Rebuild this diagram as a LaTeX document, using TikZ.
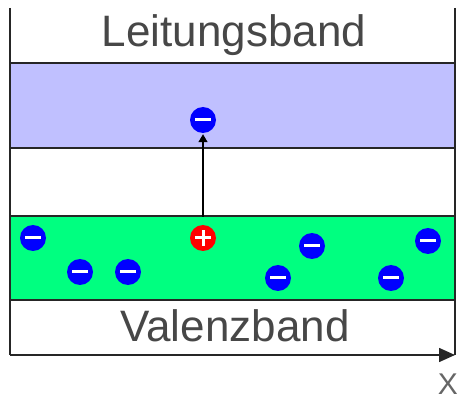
\documentclass[tikz,border=0pt]{standalone}
\usepackage{fontspec}
\setmainfont{Liberation Sans}
\usetikzlibrary{arrows.meta}
\definecolor{cband}{HTML}{C0C0FF}
\definecolor{vband}{HTML}{00FF80}
\definecolor{eblue}{HTML}{0000FF}
\definecolor{hred}{HTML}{FF0000}
\begin{document}
\begin{tikzpicture}[x=1pt,y=-1pt,
  border/.style={line width=1.6pt,draw=black!85},
  electron/.style={circle,fill=eblue,minimum size=26pt,inner sep=0pt,
    path picture={\fill[white] ([xshift=-8pt,yshift=-1.5pt]path picture bounding box.center) rectangle ([xshift=8pt,yshift=1.5pt]path picture bounding box.center);}},
  hole/.style={circle,fill=hred,minimum size=26pt,inner sep=0pt,
    path picture={\fill[white] ([xshift=-8pt,yshift=-1.5pt]path picture bounding box.center) rectangle ([xshift=8pt,yshift=1.5pt]path picture bounding box.center);
    \fill[white] ([xshift=-1.5pt,yshift=-8pt]path picture bounding box.center) rectangle ([xshift=1.5pt,yshift=8pt]path picture bounding box.center);}},
  label/.style={font=\fontsize{44}{44}\selectfont,text=black!72,inner sep=0pt}]
\useasboundingbox (0,0) rectangle (459,401);
% bands
\fill[cband] (10,63) rectangle (455,148);
\fill[vband] (10,216) rectangle (455,300);
\foreach \yy in {63,148,216,300}
  \draw[border] (10,\yy) -- (455,\yy);
\draw[border] (10,8) -- (10,355);
\draw[border] (455,8) -- (455,355);
% axis
\coordinate (o) at (10,355);
\coordinate (xe) at (455,355);
\draw[border,-{Triangle[length=16pt,width=14pt]}] (o) -- (xe);
\node[font=\fontsize{30}{30}\selectfont,text=black!60,inner sep=0pt] (xl) at (448,384) {X};
% labels
\node[label] (lb) at (234,35) {Leitungsband};
\node[label] (vb) at (235,326) {Valenzband};
% particles
\node[electron] (ec) at (203,120) {};
\node[hole] (h) at (203,238) {};
\node[electron] (e1) at (33,238) {};
\node[electron] (e2) at (80,272) {};
\node[electron] (e3) at (128,272) {};
\node[electron] (e4) at (278,278) {};
\node[electron] (e5) at (312,246) {};
\node[electron] (e6) at (391,278) {};
\node[electron] (e7) at (428,241) {};
\draw[line width=1.4pt,-{Triangle[length=8pt,width=9pt]}] ([yshift=8pt]h.north) -- ([yshift=-1pt]ec.south);
\end{tikzpicture}
\end{document}
